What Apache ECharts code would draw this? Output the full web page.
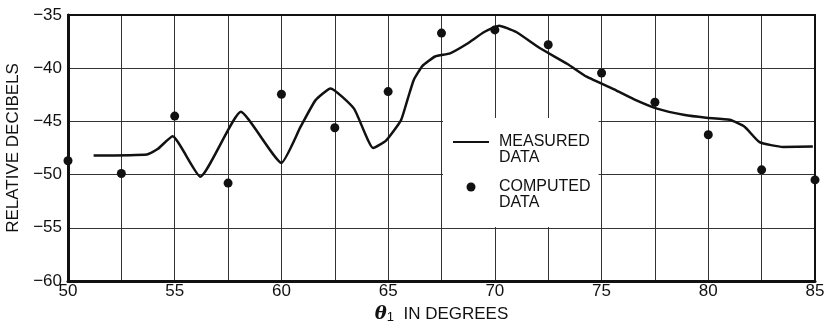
<!DOCTYPE html>
<html>
<head>
<meta charset="utf-8">
<script src="https://cdn.jsdelivr.net/npm/echarts@6/dist/echarts.min.js"></script>
<style>
  html, body { margin: 0; padding: 0; background: #fff; }
  #chart { width: 827px; height: 321px; }
</style>
</head>
<body>
<div id="chart"></div>
<script>
// measured curve (degrees, dB)
const measuredDeg = [51.2, 53.7, 54.2, 54.9, 56.2, 58.1, 60.0, 60.9, 61.6, 62.3, 63.4, 64.3, 64.9, 65.6, 65.9, 66.2, 66.6, 67.2, 67.9, 68.7, 69.5, 70.2, 71.0, 72.1, 73.4, 74.3, 75.7, 76.5, 77.6, 78.9, 79.9, 81.0, 81.7, 82.4, 83.5, 84.9];
const measuredDb = [-48.2, -48.1, -47.6, -46.4, -50.2, -44.1, -48.9, -45.5, -43.0, -41.9, -43.8, -47.5, -46.8, -44.9, -43.0, -41.1, -39.8, -38.9, -38.6, -37.7, -36.6, -36.0, -36.6, -38.1, -39.6, -40.8, -42.1, -42.9, -43.8, -44.4, -44.65, -44.85, -45.5, -46.95, -47.4, -47.35];

// computed points
const computedDeg = [50, 52.5, 55, 57.5, 60, 62.5, 65, 67.5, 70, 72.5, 75, 77.5, 80, 82.5, 85];
const computedDb = [-48.7, -49.9, -44.5, -50.8, -42.45, -45.6, -42.2, -36.7, -36.4, -37.8, -40.45, -43.2, -46.25, -49.55, -50.5];

const yTicks = [-60, -55, -50, -45, -40, -35];

const font = "'Liberation Sans', 'DejaVu Sans', sans-serif";
const ink = "#111";

const chart = echarts.init(document.getElementById("chart"), null, { renderer: "canvas" });

chart.setOption({
  animation: false,
  backgroundColor: "#fff",
  grid: { left: 68, right: 12, top: 15, bottom: 40, outerBoundsMode: "none", containLabel: false },
  xAxis: {
    type: "value",
    min: 50,
    max: 85,
    interval: 2.5,
    name: "{t|θ}{s|1}  IN DEGREES",
    nameLocation: "middle",
    nameGap: 21,
    nameTextStyle: {
      color: ink,
      fontFamily: font,
      fontSize: 17,
      rich: {
        t: { fontFamily: "'DejaVu Serif', serif", fontStyle: "italic", fontWeight: "bold", fontSize: 18, color: ink },
        s: { fontSize: 13, color: ink, verticalAlign: "bottom", padding: [7, 0, 0, 0] }
      }
    },
    axisLine: { show: true, onZero: false, lineStyle: { color: ink, width: 3 } },
    axisTick: { show: false },
    axisLabel: {
      color: ink,
      fontFamily: font,
      fontSize: 17,
      margin: 2,
      formatter: (v) => (v % 5 === 0 ? String(v) : "")
    },
    splitLine: { show: true, lineStyle: { color: "#333", width: 1 } }
  },
  yAxis: {
    type: "value",
    min: yTicks[0],
    max: yTicks[yTicks.length - 1],
    interval: 5,
    name: "RELATIVE DECIBELS",
    nameLocation: "middle",
    nameGap: 43,
    nameTextStyle: { color: ink, fontFamily: font, fontSize: 17 },
    axisLine: { show: true, onZero: false, lineStyle: { color: ink, width: 3 } },
    axisTick: { show: false },
    axisLabel: {
      color: ink,
      fontFamily: font,
      fontSize: 17,
      margin: 6,
      formatter: (v) => String(v).replace("-", "\u2212")
    },
    splitLine: { show: true, lineStyle: { color: "#333", width: 1 } }
  },
  legend: {
    orient: "vertical",
    left: 443,
    top: 118,
    backgroundColor: "#fff",
    padding: [0, 8, 16, 9],
    itemWidth: 36,
    itemHeight: 9,
    itemGap: -3,
    // blank first line keeps the icon level with the first word
    formatter: (name) => " \n" + name.replace(" ", "\n"),
    textStyle: { color: ink, fontFamily: font, fontSize: 16, lineHeight: 16, padding: [0, 0, 0, 5] },
    data: [
      { name: "MEASURED DATA", itemStyle: { opacity: 0 } },
      { name: "COMPUTED DATA", icon: "circle" }
    ]
  },
  series: [
    {
      name: "MEASURED DATA",
      type: "line",
      smooth: 0.15,
      symbol: "none",
      lineStyle: { color: ink, width: 2.5 },
      itemStyle: { color: ink },
      data: measuredDeg.map((d, i) => [d, measuredDb[i]]),
      z: 3
    },
    {
      name: "COMPUTED DATA",
      type: "scatter",
      symbol: "circle",
      symbolSize: 9,
      clip: false,
      itemStyle: { color: ink, opacity: 1 },
      data: computedDeg.map((d, i) => [d, computedDb[i]]),
      z: 4
    }
  ],
  graphic: [
    {
      type: "rect",
      shape: { x: 68, y: 15, width: 747, height: 266 },
      style: { fill: "none", stroke: ink, lineWidth: 2 },
      silent: true,
      z: 10
    }
  ]
});
</script>
</body>
</html>
